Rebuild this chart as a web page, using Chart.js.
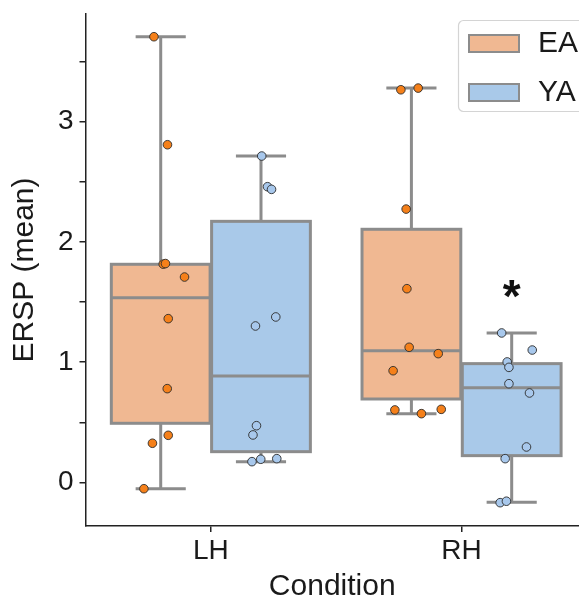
<!DOCTYPE html>
<html>
<head>
<meta charset="utf-8">
<script src="https://cdn.jsdelivr.net/npm/chart.js@4/dist/chart.umd.min.js"></script>
<style>
  html, body { margin: 0; padding: 0; background: #ffffff; overflow: hidden; }
  canvas { display: block; }
</style>
</head>
<body>
<canvas id="c" width="579" height="597"></canvas>
<script>
// ---- data ----
const categories = ['LH', 'RH'];
const groups = ['EA', 'YA'];

// individual subject values (ERSP mean)
const eaLH = [3.706, 2.808, 1.815, 1.820, 1.708, 1.362, 0.780, 0.392, 0.326, -0.052];
const eaRH = [3.265, 3.279, 2.273, 1.611, 1.124, 1.071, 0.929, 0.603, 0.572, 0.608];
const yaLH = [2.714, 2.459, 2.437, 1.376, 1.301, 0.472, 0.395, 0.173, 0.193, 0.198];
const yaRH = [1.243, 1.101, 1.002, 0.957, 0.821, 0.744, 0.295, 0.198, -0.168, -0.156];

// horizontal jitter of each point, relative to the category centre (category units)
const eaLHJitter = [-0.227, -0.173, -0.190, -0.181, -0.105, -0.170, -0.174, -0.170, -0.233, -0.267];
const eaRHJitter = [-0.242, -0.173, -0.221, -0.218, -0.209, -0.093, -0.273, -0.266, -0.160, -0.081];
const yaLHJitter = [0.203, 0.226, 0.242, 0.259, 0.178, 0.182, 0.168, 0.164, 0.199, 0.263];
const yaRHJitter = [0.160, 0.282, 0.182, 0.189, 0.189, 0.271, 0.259, 0.174, 0.154, 0.179];

// box statistics per category [LH, RH]
const eaWhiskerLow  = [-0.052, 0.572];
const eaQ1          = [0.492, 0.694];
const eaMedian      = [1.536, 1.096];
const eaQ3          = [1.814, 2.105];
const eaWhiskerHigh = [3.706, 3.279];

const yaWhiskerLow  = [0.173, -0.165];
const yaQ1          = [0.256, 0.223];
const yaMedian      = [0.885, 0.788];
const yaQ3          = [2.171, 0.988];
const yaWhiskerHigh = [2.714, 1.243];

// y tick values (labels only on integers)
const yTickValues = [0, 0.5, 1, 1.5, 2, 2.5, 3, 3.5];

// significance annotation
const annotations = [{ x: 1.2, y: 1.6, text: '*' }];

// ---- styling ----
const FONT = "'Liberation Sans', Arial, Helvetica, sans-serif";
const boxFill = { EA: '#f0b892', YA: '#a9c9e9' };
const pointFill = { EA: '#f5801a', YA: '#a8c8ec' };
const lineGray = '#8c8c8c';
const groupOffset = { EA: -0.2, YA: 0.2 };

const boxes = {
  EA: { lo: eaWhiskerLow, q1: eaQ1, med: eaMedian, q3: eaQ3, hi: eaWhiskerHigh },
  YA: { lo: yaWhiskerLow, q1: yaQ1, med: yaMedian, q3: yaQ3, hi: yaWhiskerHigh }
};

function pts(values, jitter, catIndex) {
  return values.map((v, i) => ({ x: catIndex + jitter[i], y: v }));
}

const boxPlugin = {
  id: 'boxes',
  beforeDatasetsDraw(chart) {
    const { ctx, scales: { x, y } } = chart;
    ctx.save();
    ctx.lineWidth = 3;
    ctx.strokeStyle = lineGray;
    ctx.lineCap = 'butt';
    groups.forEach(g => {
      const b = boxes[g];
      categories.forEach((c, i) => {
        const cx = i + groupOffset[g];
        const xl = x.getPixelForValue(cx - 0.197);
        const xr = x.getPixelForValue(cx + 0.197);
        const xc = x.getPixelForValue(cx);
        const cl = x.getPixelForValue(cx - 0.1);
        const cr = x.getPixelForValue(cx + 0.1);
        const yq1 = y.getPixelForValue(b.q1[i]);
        const yq3 = y.getPixelForValue(b.q3[i]);
        const ymed = y.getPixelForValue(b.med[i]);
        const ylo = y.getPixelForValue(b.lo[i]);
        const yhi = y.getPixelForValue(b.hi[i]);
        ctx.fillStyle = boxFill[g];
        ctx.fillRect(xl, yq3, xr - xl, yq1 - yq3);
        ctx.strokeRect(xl, yq3, xr - xl, yq1 - yq3);
        ctx.beginPath();
        ctx.moveTo(xc, yq3); ctx.lineTo(xc, yhi);
        ctx.moveTo(xc, yq1); ctx.lineTo(xc, ylo);
        ctx.moveTo(cl, yhi); ctx.lineTo(cr, yhi);
        ctx.moveTo(cl, ylo); ctx.lineTo(cr, ylo);
        ctx.moveTo(xl, ymed); ctx.lineTo(xr, ymed);
        ctx.stroke();
      });
    });
    ctx.restore();
  },
  afterDraw(chart) {
    const { ctx, scales: { x, y } } = chart;
    ctx.save();
    annotations.forEach(a => {
      ctx.fillStyle = '#111';
      ctx.font = 'bold 46px ' + FONT;
      ctx.textAlign = 'center';
      ctx.textBaseline = 'middle';
      ctx.fillText(a.text, x.getPixelForValue(a.x), y.getPixelForValue(a.y) + 9);
    });
    const lx = 458.5, ly = 20.5, lw = 140, lh = 91;
    ctx.beginPath();
    ctx.roundRect(lx, ly, lw, lh, 5);
    ctx.fillStyle = 'rgba(255,255,255,0.85)';
    ctx.fill();
    ctx.strokeStyle = '#d4d4d4';
    ctx.lineWidth = 1.2;
    ctx.stroke();
    groups.forEach((g, k) => {
      const sy = 35 + k * 49;
      ctx.fillStyle = boxFill[g];
      ctx.fillRect(469, sy, 50, 17);
      ctx.strokeStyle = lineGray;
      ctx.lineWidth = 2;
      ctx.strokeRect(469, sy, 50, 17);
      ctx.fillStyle = '#1a1a1a';
      ctx.font = '30px ' + FONT;
      ctx.textAlign = 'left';
      ctx.textBaseline = 'middle';
      ctx.fillText(g, 538, sy + 9);
    });
    ctx.restore();
  }
};

const xMaxVisible = -0.5 + (579 - 85.5) / 250.7;

new Chart(document.getElementById('c'), {
  type: 'scatter',
  data: {
    datasets: [
      {
        label: 'EA',
        data: pts(eaLH, eaLHJitter, 0).concat(pts(eaRH, eaRHJitter, 1)),
        backgroundColor: pointFill.EA,
        borderColor: '#2b2b2b',
        borderWidth: 0.9,
        pointRadius: 4.3,
        pointHoverRadius: 4.3
      },
      {
        label: 'YA',
        data: pts(yaLH, yaLHJitter, 0).concat(pts(yaRH, yaRHJitter, 1)),
        backgroundColor: pointFill.YA,
        borderColor: '#2b2b2b',
        borderWidth: 0.9,
        pointRadius: 4.3,
        pointHoverRadius: 4.3
      }
    ]
  },
  options: {
    responsive: false,
    animation: false,
    devicePixelRatio: 1,
    layout: { autoPadding: false, padding: { top: 14, left: 0, right: 0, bottom: 0 } },
    plugins: { legend: { display: false }, tooltip: { enabled: false } },
    scales: {
      x: {
        type: 'linear',
        min: -0.5,
        max: xMaxVisible,
        afterFit(s) { s.height = 71; s.paddingLeft = 0; s.paddingRight = 0; },
        afterBuildTicks(s) { s.ticks = categories.map((c, i) => ({ value: i })); },
        ticks: {
          callback: v => categories[v],
          color: '#1a1a1a',
          font: { family: FONT, size: 28 },
          padding: 2,
          maxRotation: 0,
          autoSkip: false
        },
        grid: { display: true, drawOnChartArea: false, drawTicks: true, tickLength: 6, color: '#222', lineWidth: 1.5 },
        border: { display: true, color: '#222', width: 1.5 },
        title: {
          display: true,
          text: 'Condition',
          color: '#1a1a1a',
          font: { family: FONT, size: 30, lineHeight: 1 },
          padding: { top: 0, bottom: -5 }
        }
      },
      y: {
        type: 'linear',
        min: -0.362,
        max: 3.895,
        afterFit(s) { s.width = 85.5; s.paddingTop = 0; s.paddingBottom = 0; },
        afterBuildTicks(s) { s.ticks = yTickValues.map(v => ({ value: v })); },
        ticks: {
          callback: v => (Number.isInteger(v) ? String(v) : ''),
          color: '#1a1a1a',
          font: { family: FONT, size: 28 },
          padding: 6,
          autoSkip: false
        },
        grid: { display: true, drawOnChartArea: false, drawTicks: true, tickLength: 6, color: '#222', lineWidth: 1.5 },
        border: { display: true, color: '#222', width: 1.5 },
        title: {
          display: true,
          text: 'ERSP (mean)',
          color: '#1a1a1a',
          font: { family: FONT, size: 30, lineHeight: 1 },
          padding: { top: 10, bottom: 0 }
        }
      }
    }
  },
  plugins: [boxPlugin]
});
</script>
</body>
</html>
